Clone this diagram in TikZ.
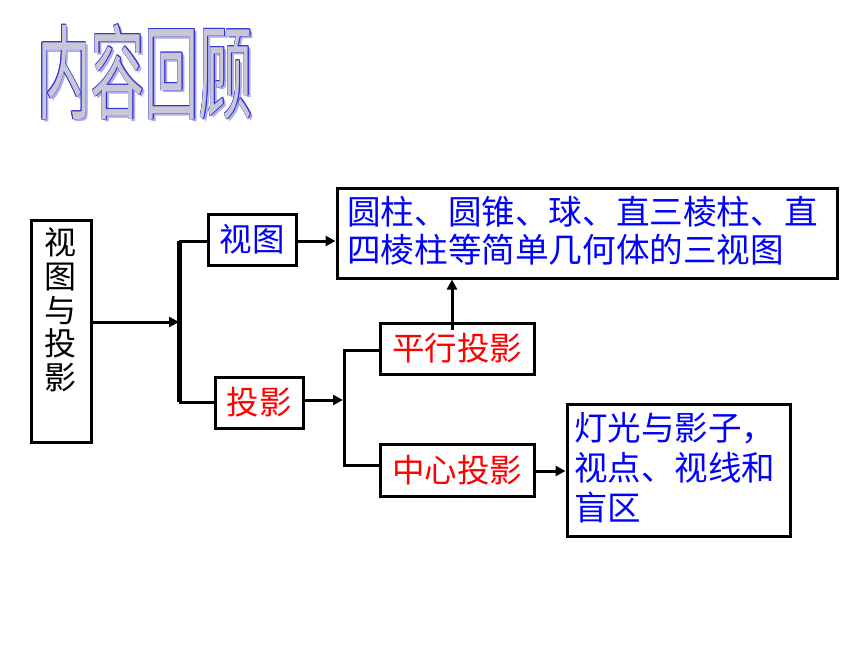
\documentclass[tikz,border=0pt]{standalone}
\usepackage{fontspec}
\setmainfont{Noto Sans CJK SC}
\usepackage{graphicx}
\usetikzlibrary{arrows.meta}
\definecolor{tblue}{RGB}{0,0,255}
\definecolor{tred}{RGB}{255,0,0}
\definecolor{ttlfill}{RGB}{200,200,212}
\definecolor{ttlline}{RGB}{50,50,215}
\definecolor{ttlshadow}{RGB}{170,170,245}
\newcommand\ttltext{\scalebox{1}[1.9]{内容回顾}}
\begin{document}
\begin{tikzpicture}[x=1pt,y=-1pt,
  box/.style={draw=black,line width=3pt,fill=white,inner sep=0pt},
  conn/.style={line width=3pt},
  arr/.style={line width=3pt,-{Triangle[length=10pt,width=10pt]}},
  cjk/.style={font=\fontsize{32.5}{33}\selectfont},
  ttl/.style={font=\fontsize{54}{54}\selectfont,inner sep=0pt}]
\fill[white] (0,0) rectangle (860,645);
\useasboundingbox (0,0) rectangle (860,645);
% title
\node[ttl,text=ttlshadow] (tsh) at (147.5,74.5) {\ttltext};
\foreach \dx/\dy [count=\i] in {0.8/0,-0.8/0,0/0.8,0/-0.8,0.6/0.6,-0.6/0.6,0.6/-0.6,-0.6/-0.6}
  \node[ttl,text=ttlline] (tol\i) at (145+\dx,72+\dy) {\ttltext};
\node[ttl,text=ttlfill] (ttl) at (145,72) {\ttltext};
% boxes
\node[box,minimum width=60pt,minimum height=222pt] (L) at (61,331.5) {};
\node[align=center,font=\fontsize{32}{33.75}\selectfont,inner sep=0pt] (Lt) at (61,310) {视\\图\\与\\投\\影};
\node[box,cjk,minimum width=88pt,minimum height=51pt,text=tblue] (V) at (252,239.5) {视图};
\node[box,cjk,minimum width=88pt,minimum height=51pt,text=tred] (T) at (259,402.5) {投影};
\node[box,minimum width=500pt,minimum height=90pt] (B) at (587,233) {};
\node[anchor=west,align=left,text=tblue,font=\fontsize{33.6}{38}\selectfont,inner sep=0pt] (Bt) at (347,231) {圆柱、圆锥、球、直三棱柱、直\\四棱柱等简单几何体的三视图};
\node[box,cjk,minimum width=154pt,minimum height=51pt,text=tred] (P) at (457,348.5) {平行投影};
\node[box,cjk,minimum width=154pt,minimum height=52pt,text=tred] (C) at (457,470) {中心投影};
\node[box,minimum width=223pt,minimum height=132pt] (R) at (678.5,470) {};
\node[anchor=west,align=left,text=tblue,font=\fontsize{33.5}{40}\selectfont,inner sep=0pt] (Rt) at (574,468) {灯光与影子，\\视点、视线和\\盲区};
% connectors
\coordinate (j1) at (179,322);
\draw[arr] (L.east |- j1) -- (j1);
\coordinate (b1t) at (179,241);
\coordinate (b1b) at (179,402);
\draw[line width=5pt] (b1t) -- (b1b);
\draw[conn] (b1t) -- (V.west |- b1t);
\draw[conn] (b1b) -- (T.west |- b1b);
\draw[arr] (V.east |- b1t) -- (B.west |- b1t);
\coordinate (j2) at (343,400);
\draw[arr] (T.east |- j2) -- (j2);
\coordinate (b2t) at (344,350);
\coordinate (b2b) at (344,465);
\draw[conn] (P.west |- b2t) -- (b2t) -- (b2b) -- (C.west |- b2b);
\coordinate (pu) at (452,330);
\draw[arr] (pu) -- (B.south -| pu);
\coordinate (cr) at (538,471);
\draw[arr] (C.east |- cr) -- (R.west |- cr);
\end{tikzpicture}
\end{document}
